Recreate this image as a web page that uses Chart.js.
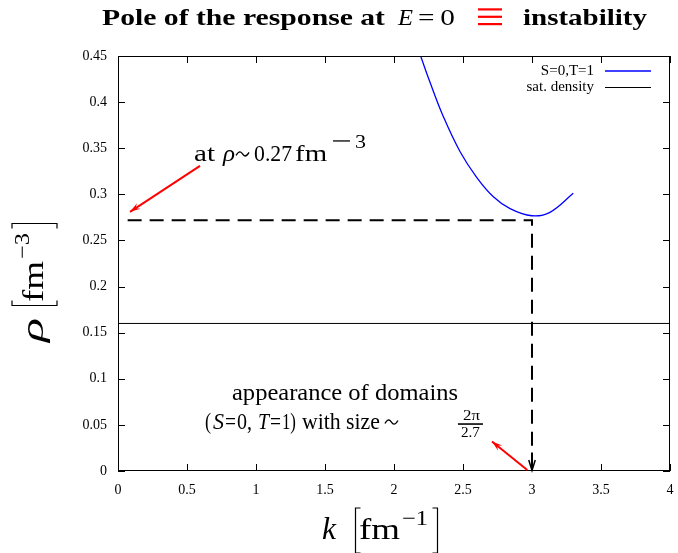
<!DOCTYPE html>
<html>
<head>
<meta charset="utf-8">
<script src="https://cdn.jsdelivr.net/npm/chart.js@4.4.1/dist/chart.umd.min.js"></script>
<style>
  html, body { margin: 0; padding: 0; background: #fff; }
  #grafico { display: block; }
</style>
</head>
<body>
<canvas id="grafico" width="678" height="553"></canvas>
<script>
// curva do polo (S=0,T=1): k em fm^-1, rho em fm^-3
const kPolo = [2.193, 2.261, 2.357, 2.478, 2.599, 2.720, 2.841, 2.998, 3.130, 3.299];
const rhoPolo = [0.45, 0.4215, 0.3845, 0.3465, 0.3185, 0.2974, 0.2845, 0.2768, 0.2805, 0.3011];

// densidade de saturação
const rhoSat = 0.16;
const kLimites = [0, 4];

// ponto da instabilidade (linhas tracejadas)
const kInstab = 3.0;
const rhoInstab = 0.272;
const kInicioTracejado = 0.07;

const xTicks = [0, 0.5, 1, 1.5, 2, 2.5, 3, 3.5, 4];
const yTicks = [0, 0.05, 0.1, 0.15, 0.2, 0.25, 0.3, 0.35, 0.4, 0.45];

const SERIF = '"Liberation Serif", "DejaVu Serif", serif';

// texto esticado na horizontal para ocupar a largura pedida
function texto(ctx, t, font, x, y, largura, cor) {
  ctx.save();
  ctx.font = font;
  ctx.fillStyle = cor || '#000';
  ctx.textAlign = 'left';
  ctx.textBaseline = 'alphabetic';
  const w = ctx.measureText(t).width;
  ctx.translate(x, y);
  if (largura) ctx.scale(largura / w, 1);
  ctx.fillText(t, 0, 0);
  ctx.restore();
}

// til matemático (\sim) desenhado como curva
function til(ctx, x, y, w) {
  ctx.save();
  ctx.strokeStyle = '#000';
  ctx.lineWidth = 1.3;
  ctx.beginPath();
  ctx.moveTo(x, y + 1.5);
  ctx.bezierCurveTo(x + w * 0.25, y - 4, x + w * 0.4, y - 2, x + w * 0.5, y);
  ctx.bezierCurveTo(x + w * 0.6, y + 2, x + w * 0.75, y + 4, x + w, y - 1.5);
  ctx.stroke();
  ctx.restore();
}

function traco(ctx, x, y, w, esp) {
  ctx.save();
  ctx.strokeStyle = '#000';
  ctx.lineWidth = esp;
  ctx.beginPath();
  ctx.moveTo(x, y);
  ctx.lineTo(x + w, y);
  ctx.stroke();
  ctx.restore();
}

// pedaços: [texto, fonte, dx, dy, largura]; '~' é o til e '-' um traço
function escrever(ctx, pedacos, x, y) {
  for (const [t, font, dx, dy, w] of pedacos) {
    if (t === '~') til(ctx, x + dx, y + dy, w);
    else if (t === '-') traco(ctx, x + dx, y + dy, w, font);
    else texto(ctx, t, font, x + dx, y + dy, w);
  }
}

function colchete(ctx, x, topo, base, lado) {
  ctx.save();
  ctx.strokeStyle = '#000';
  ctx.lineWidth = 1.2;
  ctx.beginPath();
  ctx.moveTo(x + 5 * lado, topo);
  ctx.lineTo(x, topo);
  ctx.lineTo(x, base);
  ctx.lineTo(x + 5 * lado, base);
  ctx.stroke();
  ctx.restore();
}

// rótulo de eixo: variável [fm^expoente]; x0 é a posição do colchete esquerdo
function rotuloEixo(ctx, variavel, dxVar, wVar, expoente, x0, base) {
  texto(ctx, variavel, 'italic 31px ' + SERIF, x0 + dxVar, base, wVar);
  colchete(ctx, x0 + 0.5, base - 31, base + 14, 1);
  texto(ctx, 'fm', '30px ' + SERIF, x0 + 4, base, 41);
  texto(ctx, '\u2212' + expoente, '21px ' + SERIF, x0 + 47, base - 14, 26);
  colchete(ctx, x0 + 82.5, base - 31, base + 14, -1);
}

function seta(ctx, x1, y1, x2, y2, cor, aberta) {
  const ang = Math.atan2(y2 - y1, x2 - x1);
  const L = 11, abre = 0.3;
  ctx.save();
  ctx.strokeStyle = cor;
  ctx.fillStyle = cor;
  ctx.lineWidth = 2;
  ctx.setLineDash([]);
  ctx.beginPath();
  ctx.moveTo(x1, y1);
  ctx.lineTo(x2, y2);
  ctx.stroke();
  ctx.beginPath();
  ctx.moveTo(x2 - L * Math.cos(ang - abre), y2 - L * Math.sin(ang - abre));
  ctx.lineTo(x2, y2);
  ctx.lineTo(x2 - L * Math.cos(ang + abre), y2 - L * Math.sin(ang + abre));
  if (aberta) {
    ctx.lineWidth = 1.5;
    ctx.stroke();
  } else {
    ctx.lineTo(x2 - 0.6 * L * Math.cos(ang), y2 - 0.6 * L * Math.sin(ang));
    ctx.closePath();
    ctx.fill();
  }
  ctx.restore();
}

const pluginDecoracao = {
  id: 'decoracao',
  afterDatasetsDraw(chart) {
    const { ctx, chartArea: a, scales: { x, y } } = chart;

    // moldura e marcas internas nos quatro lados
    ctx.save();
    ctx.strokeStyle = '#000';
    ctx.lineWidth = 1;
    ctx.strokeRect(a.left + 0.5, a.top + 0.5, a.right - a.left - 1, a.bottom - a.top - 1);
    ctx.beginPath();
    for (const v of xTicks) {
      const px = Math.round(x.getPixelForValue(v)) + 0.5;
      ctx.moveTo(px, a.bottom); ctx.lineTo(px, a.bottom - 7);
      ctx.moveTo(px, a.top); ctx.lineTo(px, a.top + 7);
    }
    for (const v of yTicks) {
      const py = Math.round(y.getPixelForValue(v)) + 0.5;
      ctx.moveTo(a.left, py); ctx.lineTo(a.left + 7, py);
      ctx.moveTo(a.right, py); ctx.lineTo(a.right - 7, py);
    }
    ctx.stroke();
    ctx.restore();

    // ponta de seta da linha vertical tracejada
    const xi = x.getPixelForValue(kInstab);
    seta(ctx, xi, y.getPixelForValue(0.02), xi, y.getPixelForValue(0.0005), '#000', true);

    // setas vermelhas
    seta(ctx, x.getPixelForValue(0.594), y.getPixelForValue(0.3308),
         x.getPixelForValue(0.087), y.getPixelForValue(0.281), '#ff0000', false);
    seta(ctx, x.getPixelForValue(2.966), y.getPixelForValue(0.001),
         x.getPixelForValue(2.71), y.getPixelForValue(0.032), '#ff0000', false);

    // legenda
    ctx.save();
    ctx.font = '15px ' + SERIF;
    ctx.fillStyle = '#000';
    ctx.textAlign = 'right';
    ctx.textBaseline = 'middle';
    ctx.fillText('S=0,T=1', 594, 71);
    ctx.fillText('sat. density', 594, 87);
    ctx.lineWidth = 1.3;
    ctx.strokeStyle = '#0000ff';
    ctx.beginPath(); ctx.moveTo(605, 71); ctx.lineTo(651, 71); ctx.stroke();
    ctx.lineWidth = 1;
    ctx.strokeStyle = '#000';
    ctx.beginPath(); ctx.moveTo(605, 87.5); ctx.lineTo(651, 87.5); ctx.stroke();
    ctx.restore();

    // anotações
    const R = '24px ' + SERIF, I = 'italic 24px ' + SERIF;
    escrever(ctx, [
      ['at', R, 0, 0, 21],
      ['\u03C1', I, 29, 0, 12],
      ['~', null, 42, -7, 13],
      ['0.27', R, 60, 0, 38],
      ['fm', R, 101, 0, 32],
      ['-', 1.3, 139, -20, 17],
      ['3', '18px ' + SERIF, 161, -13, 11]
    ], x.getPixelForValue(0.551), y.getPixelForValue(0.3362));

    escrever(ctx, [
      ['appearance of domains', R, 0, 0, 226]
    ], x.getPixelForValue(0.826), y.getPixelForValue(0.077));

    escrever(ctx, [
      ['(', R, 0, 0, 6],
      ['S', I, 8, 0, 11],
      ['=', R, 20, 0, 11],
      ['0,', R, 32, 0, 15],
      ['T', I, 53, 0, 11],
      ['=', R, 65, 0, 11],
      ['1)', R, 77, 0, 14],
      ['with size', R, 97, 0, 78],
      ['~', null, 180, -7, 13],
      ['2\u03C0', '15px ' + SERIF, 258, -9, 17],
      ['-', 1.6, 253, -5, 25],
      ['2.7', '15px ' + SERIF, 256, 8, 19]
    ], x.getPixelForValue(0.63), y.getPixelForValue(0.0455));
  },
  afterDraw(chart) {
    const { ctx } = chart;
    // título com o símbolo de equivalência em vermelho
    const B = 'bold 23px ' + SERIF;
    texto(ctx, 'Pole of the response at', B, 102, 25, 283);
    texto(ctx, 'E', 'italic 23px ' + SERIF, 398, 25, 15);
    texto(ctx, '=\u20090', '23px ' + SERIF, 418, 25, 37);
    ctx.fillStyle = '#ff0000';
    for (const yy of [8.3, 15.7, 23]) ctx.fillRect(478, yy, 24, 2.2);
    texto(ctx, 'instability', B, 523, 25, 124);

    // rótulos dos eixos
    rotuloEixo(ctx, 'k', -33, 14, '1', 355, 539);
    ctx.save();
    ctx.translate(43, 306);
    ctx.rotate(-Math.PI / 2);
    rotuloEixo(ctx, '\u03C1', -36, 24, '3', 0, 0);
    ctx.restore();
  }
};

new Chart(document.getElementById('grafico'), {
  type: 'line',
  data: {
    datasets: [
      {
        label: 'S=0,T=1',
        data: kPolo.map((k, i) => ({ x: k, y: rhoPolo[i] })),
        borderColor: '#0000ff',
        borderWidth: 1.3,
        pointRadius: 0,
        tension: 0.4
      },
      {
        label: 'sat. density',
        data: kLimites.map(k => ({ x: k, y: rhoSat })),
        borderColor: '#000',
        borderWidth: 1,
        pointRadius: 0
      },
      {
        label: 'instabilidade',
        data: [
          { x: kInicioTracejado, y: rhoInstab },
          { x: kInstab, y: rhoInstab },
          { x: kInstab, y: 0.003 }
        ],
        borderColor: '#000',
        borderWidth: 2,
        borderDash: [14, 8],
        pointRadius: 0,
        tension: 0
      }
    ]
  },
  options: {
    responsive: false,
    animation: false,
    layout: { padding: { left: 0, right: 8, top: 56, bottom: 0 } },
    plugins: {
      legend: { display: false },
      title: { display: false },
      tooltip: { enabled: false }
    },
    scales: {
      x: {
        type: 'linear',
        min: 0,
        max: 4,
        afterFit: s => { s.height = 82; s.paddingLeft = 0; s.paddingRight = 0; },
        afterBuildTicks: s => { s.ticks = xTicks.map(v => ({ value: v })); },
        grid: { display: false, drawTicks: false },
        border: { display: false },
        ticks: { color: '#000', padding: 11, font: { family: SERIF, size: 14 }, callback: v => String(v) }
      },
      y: {
        type: 'linear',
        min: 0,
        max: 0.45,
        afterFit: s => { s.width = 118; s.paddingTop = 0; s.paddingBottom = 0; },
        afterBuildTicks: s => { s.ticks = yTicks.map(v => ({ value: v })); },
        grid: { display: false, drawTicks: false },
        border: { display: false },
        ticks: { color: '#000', padding: 11, font: { family: SERIF, size: 14 }, callback: v => String(v) }
      }
    }
  },
  plugins: [pluginDecoracao]
});
</script>
</body>
</html>
